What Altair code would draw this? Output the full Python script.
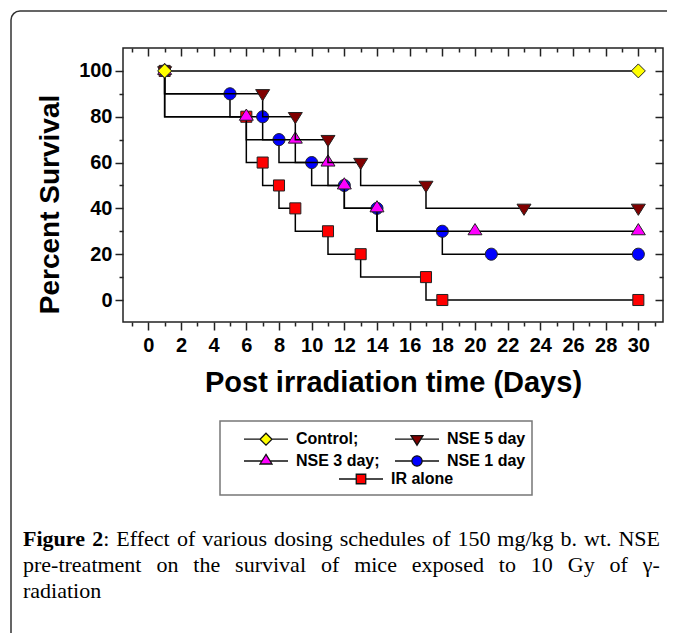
import altair as alt
import pandas as pd

# ---------------- data ----------------
series = ["Control;", "NSE 5 day", "NSE 3 day;", "NSE 1 day", "IR alone"]
colors = ["#FFFF00", "#800000", "#FF00FF", "#0000FF", "#FF0000"]

# Kaplan-Meier step curves (step-after vertices)
control_days = [1, 30]
control_surv = [100, 100]
nse5_days = [1, 1, 7, 9, 11, 13, 17, 30]
nse5_surv = [100, 90, 80, 70, 60, 50, 40, 40]
nse3_days = [1, 1, 6, 9, 11, 12, 14, 30]
nse3_surv = [100, 80, 70, 60, 50, 40, 30, 30]
nse1_days = [1, 1, 5, 7, 8, 10, 12, 14, 18, 30]
nse1_surv = [100, 90, 80, 70, 60, 50, 40, 30, 20, 20]
ir_days = [1, 1, 6, 7, 8, 9, 11, 13, 17, 30]
ir_surv = [100, 80, 60, 50, 40, 30, 20, 10, 0, 0]

# plotted symbols
control_mk_days = [1, 30]
control_mk_surv = [100, 100]
nse5_mk_days = [1, 7, 9, 11, 13, 17, 23, 30]
nse5_mk_surv = [100, 90, 80, 70, 60, 50, 40, 40]
nse3_mk_days = [1, 6, 9, 11, 12, 14, 20, 30]
nse3_mk_surv = [100, 80, 70, 60, 50, 40, 30, 30]
nse1_mk_days = [1, 5, 7, 8, 10, 12, 14, 18, 21, 30]
nse1_mk_surv = [100, 90, 80, 70, 60, 50, 40, 30, 20, 20]
ir_mk_days = [1, 6, 7, 8, 9, 11, 13, 17, 18, 30]
ir_mk_surv = [100, 80, 60, 50, 40, 30, 20, 10, 0, 0]

x_title = "Post irradiation time (Days)"
y_title = "Percent Survival"

caption_line1 = [("Figure", True, False), ("2", True, False), (":", False, True),
                 ("Effect", False, False), ("of", False, False), ("various", False, False),
                 ("dosing", False, False), ("schedules", False, False), ("of", False, False),
                 ("150", False, False), ("mg/kg", False, False), ("b.", False, False),
                 ("wt.", False, False), ("NSE", False, False)]
caption_line2 = ["pre-treatment", "on", "the", "survival", "of", "mice", "exposed",
                 "to", "10", "Gy", "of", "γ-"]
caption_line3 = ["radiation"]

# ---------------- build tables ----------------
curves = {
    "Control;": (control_days, control_surv, control_mk_days, control_mk_surv),
    "NSE 5 day": (nse5_days, nse5_surv, nse5_mk_days, nse5_mk_surv),
    "NSE 3 day;": (nse3_days, nse3_surv, nse3_mk_days, nse3_mk_surv),
    "NSE 1 day": (nse1_days, nse1_surv, nse1_mk_days, nse1_mk_surv),
    "IR alone": (ir_days, ir_surv, ir_mk_days, ir_mk_surv),
}
line_rows, mk_rows = [], []
for s, (d, v, md, mv) in curves.items():
    for i, (a, b) in enumerate(zip(d, v)):
        line_rows.append({"series": s, "day": a, "surv": b, "idx": i})
    for a, b in zip(md, mv):
        mk_rows.append({"series": s, "day": a, "surv": b})
line_df = pd.DataFrame(line_rows)
mk_df = pd.DataFrame(mk_rows)

# marker shapes (unit paths)
P_DIAMOND = "M0,-1L1,0L0,1L-1,0Z"
P_TDOWN = "M-1,-0.6L1,-0.6L0,1Z"
P_TUP = "M0,-1.1L1,0.5L-1,0.5Z"
P_CIRCLE = "M0.86,0A0.86,0.86,0,1,1,-0.86,0A0.86,0.86,0,1,1,0.86,0Z"
P_SQUARE = "M-0.79,-0.79L0.79,-0.79L0.79,0.79L-0.79,0.79Z"
plot_paths = [P_DIAMOND, P_TDOWN, P_TUP, P_CIRCLE, P_SQUARE]
half_w = [1, 0.625, 0.69, 0.86, 0.79]
legend_paths = [f"M-3.67,0L-{h},0M{h},0L3.67,0" + p for h, p in zip(half_w, plot_paths)]

# caption layout (Times-metric widths, justified)
REG = {" ": 250, "-": 333, ".": 250, "/": 278, ":": 278, "a": 444, "b": 500, "c": 444,
       "d": 500, "e": 444, "f": 333, "g": 500, "h": 500, "i": 278, "k": 500, "l": 278,
       "m": 778, "n": 500, "o": 500, "p": 500, "r": 333, "s": 389, "t": 278, "u": 500,
       "v": 500, "w": 722, "x": 500, "y": 500, "E": 611, "G": 722, "N": 722, "S": 556,
       "γ": 450}
BOLD = {"F": 611, "i": 278, "g": 500, "u": 556, "r": 444, "e": 444}
FS = 22
CAP_L, CAP_R = -100, 537
BASE = [498, 524, 550]


def wid(word, bold):
    tab = BOLD if bold else REG
    return sum(tab.get(c, REG.get(c, 500)) for c in word) / 1000 * FS


cap_rows = []
toks = caption_line1
total = sum(wid(t, b) for t, b, _ in toks)
ngaps = sum(1 for t, b, att in toks[1:] if not att)
gap = (CAP_R - CAP_L - total) / ngaps
x = CAP_L
for i, (t, b, att) in enumerate(toks):
    if i > 0 and not att:
        x += gap
    cap_rows.append({"w": t, "px": x, "py": BASE[0], "bold": b})
    x += wid(t, b)
toks = caption_line2
total = sum(wid(t, False) for t in toks)
gap = (CAP_R - CAP_L - total) / (len(toks) - 1)
x = CAP_L
for t in toks:
    cap_rows.append({"w": t, "px": x, "py": BASE[1], "bold": False})
    x += wid(t, False) + gap
cap_rows.append({"w": caption_line3[0], "px": CAP_L, "py": BASE[2], "bold": False})
cap_df = pd.DataFrame(cap_rows)

# ---------------- scales & axes ----------------
XS = alt.Scale(domain=[-1.55, 31.51], nice=False, zero=False)
YS = alt.Scale(domain=[-9.6, 110], nice=False, zero=False)
SANS = "Liberation Sans"
TICK = "#222"

ax_bottom = alt.Axis(
    orient="bottom", values=list(range(-1, 32)), domain=False, grid=False,
    tickSize={"condition": {"test": "datum.value % 2 == 0", "value": 8}, "value": 4},
    tickColor=TICK, tickWidth=1.5,
    labelExpr="(datum.value % 2 == 0 && datum.value >= 0) ? datum.label : ''",
    labelOverlap=False, labelFlush=False, labelFont=SANS, labelFontSize=20,
    labelFontWeight="bold", labelColor="black", labelPadding=5,
    title=x_title, titleFont=SANS, titleFontSize=29, titleFontWeight="bold",
    titleColor="black", titleX=270, titleY=60, titleAlign="center", titleBaseline="middle")
ax_left = alt.Axis(
    orient="left", values=list(range(0, 101, 10)), domain=False, grid=False,
    tickSize={"condition": {"test": "datum.value % 20 == 0", "value": 8}, "value": 4},
    tickColor=TICK, tickWidth=1.5,
    labelExpr="(datum.value % 20 == 0) ? datum.label : ''",
    labelOverlap=False, labelFlush=False, labelFont=SANS, labelFontSize=20,
    labelFontWeight="bold", labelColor="black", labelPadding=3,
    title=y_title, titleFont=SANS, titleFontSize=28, titleFontWeight="bold",
    titleColor="black", titleAngle=270, titleX=-73, titleY=156, titleAlign="center",
    titleBaseline="middle")
ax_top_major = alt.Axis(orient="top", values=list(range(0, 31, 2)), domain=False, grid=False,
                        labels=False, title=None, tickSize=8, offset=-8, tickColor=TICK, tickWidth=1.5)
ax_top_minor = alt.Axis(orient="top", values=list(range(-1, 32, 2)), domain=False, grid=False,
                        labels=False, title=None, tickSize=4, offset=-4, tickColor=TICK, tickWidth=1.5)
ax_right_major = alt.Axis(orient="right", values=list(range(0, 101, 20)), domain=False, grid=False,
                          labels=False, title=None, tickSize=8, offset=-8, tickColor=TICK, tickWidth=1.5)
ax_right_minor = alt.Axis(orient="right", values=list(range(10, 100, 20)), domain=False, grid=False,
                          labels=False, title=None, tickSize=4, offset=-4, tickColor=TICK, tickWidth=1.5)

axes_x = [ax_bottom, ax_top_major, ax_top_minor]
axes_y = [ax_left, ax_right_major, ax_right_minor]

# ---------------- layers ----------------
one = pd.DataFrame({"k": [0]})
frame = alt.Chart(one).mark_rect(
    fillOpacity=0, stroke="#333", strokeWidth=1.5, cornerRadius=9
).encode(x=alt.value(-112), x2=alt.value(620), y=alt.value(-37), y2=alt.value(640))
legend_box = alt.Chart(one).mark_rect(
    fill="white", stroke="#777", strokeWidth=1.5
).encode(x=alt.value(97), x2=alt.value(409), y=alt.value(373), y2=alt.value(447))

layers = [frame, legend_box]
draw_order = ["IR alone", "NSE 1 day", "NSE 3 day;", "NSE 5 day", "Control;"]
k = 0
for s in draw_order:
    ax_x = axes_x[k] if k < 3 else None
    ax_y = axes_y[k] if k < 3 else None
    k += 1
    ln = alt.Chart(line_df).transform_filter(alt.datum.series == s).mark_line(
        interpolate="step-after", color="black", strokeWidth=1.5
    ).encode(
        x=alt.X("day:Q", scale=XS, axis=ax_x),
        y=alt.Y("surv:Q", scale=YS, axis=ax_y),
        order=alt.Order("idx:Q"),
    )
    layers.append(ln)
    ax_x = axes_x[k] if k < 3 else None
    ax_y = axes_y[k] if k < 3 else None
    k += 1
    pt = alt.Chart(mk_df).transform_filter(alt.datum.series == s).mark_point(
        filled=True, size=196, stroke="#222", strokeWidth=1, opacity=1
    ).encode(
        x=alt.X("day:Q", scale=XS, axis=ax_x),
        y=alt.Y("surv:Q", scale=YS, axis=ax_y),
        shape=alt.Shape("series:N", scale=alt.Scale(domain=series, range=plot_paths), legend=None),
        fill=alt.Fill("series:N", scale=alt.Scale(domain=series, range=colors), legend=None),
    )
    layers.append(pt)


def make_legend(lx, ly):
    return alt.Legend(title=None, orient="none", legendX=lx, legendY=ly, direction="horizontal",
                      columns=2, symbolSize=144, symbolStrokeWidth=1.3, symbolOffset=29,
                      labelOffset=22, labelFont=SANS, labelFontSize=16, labelFontWeight="bold",
                      labelColor="black", strokeColor="transparent", fillColor="transparent",
                      padding=9, rowPadding=3, columnPadding=-6, labelLimit=0)


def legend_layer(n0, n1, lx, ly):
    dom = series[n0:n1]
    return alt.Chart(mk_df).transform_filter("false").mark_point(
        filled=True, size=144, strokeWidth=1.3, opacity=1
    ).encode(
        x=alt.X("day:Q", scale=XS, axis=None),
        y=alt.Y("surv:Q", scale=YS, axis=None),
        shape=alt.Shape("series:N", scale=alt.Scale(domain=dom, range=legend_paths[n0:n1]),
                        legend=make_legend(lx, ly)),
        fill=alt.Fill("series:N", scale=alt.Scale(domain=dom, range=colors[n0:n1]),
                      legend=make_legend(lx, ly)),
        stroke=alt.Stroke("series:N", scale=alt.Scale(domain=dom, range=["#111"] * (n1 - n0)),
                          legend=make_legend(lx, ly)),
    )


layers.append(legend_layer(0, 4, 97, 374))
layers.append(legend_layer(4, 5, 192, 414))

SERIF = "Liberation Serif"
cap_reg = alt.Chart(cap_df).transform_filter(alt.datum.bold == False).mark_text(
    font=SERIF, fontSize=FS, align="left", baseline="alphabetic", color="black"
).encode(x=alt.X("px:Q", scale=None), y=alt.Y("py:Q", scale=None), text="w:N")
cap_bold = alt.Chart(cap_df).transform_filter(alt.datum.bold == True).mark_text(
    font=SERIF, fontSize=FS, fontWeight="bold", align="left", baseline="alphabetic", color="black"
).encode(x=alt.X("px:Q", scale=None), y=alt.Y("py:Q", scale=None), text="w:N")
layers += [cap_reg, cap_bold]

chart = alt.layer(*layers).resolve_scale(
    shape="independent", fill="independent", stroke="independent"
).resolve_axis(
    x="independent", y="independent"
).properties(
    width=540, height=274,
    autosize=alt.AutoSizeParams(type="none"),
    padding={"left": 115, "top": 40, "right": 4, "bottom": 311},
    background="white",
).configure_view(stroke="#222", strokeWidth=1.5)

chart.save("out.html", embed_options={"renderer": "svg", "actions": False})
